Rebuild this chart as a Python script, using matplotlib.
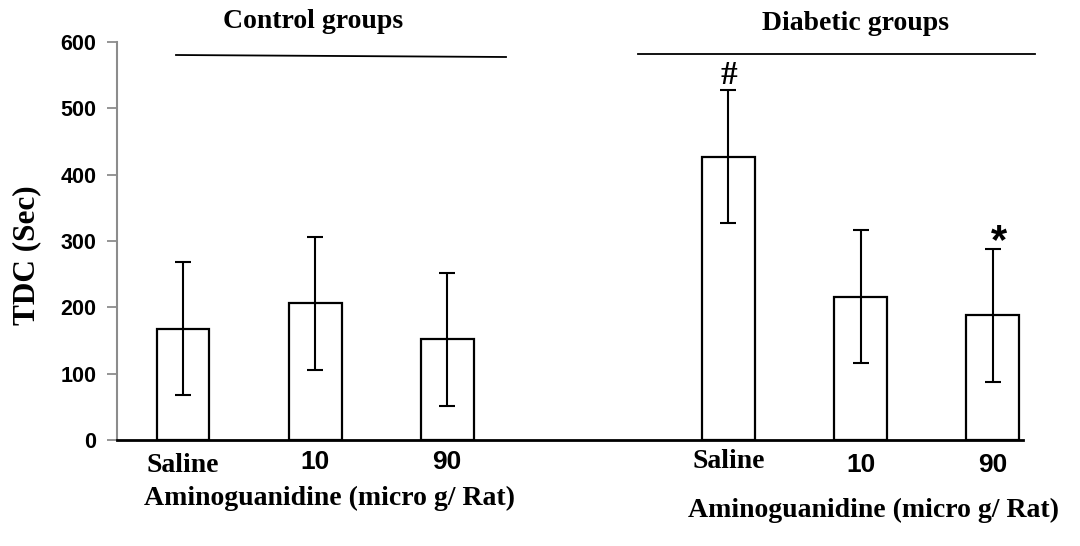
import matplotlib
matplotlib.use("Agg")
import matplotlib.pyplot as plt
from matplotlib.lines import Line2D
import matplotlib.transforms as mtransforms

# ---- data ----
categories = ["Saline", "10", "90", "Saline", "10", "90"]
groups = ["Control groups", "Diabetic groups"]
tdc_values = [168, 206, 152, 427, 216, 188]
tdc_errors = [100, 100, 100, 100, 100, 100]
markers = ["", "", "", "#", "", "*"]
y_ticks = [0, 100, 200, 300, 400, 500, 600]

# layout positions (slot units)
positions = [0, 1, 2, 4.13, 5.13, 6.13]

W, H = 1080, 546
fig = plt.figure(figsize=(W / 100, H / 100), dpi=100)
ax = fig.add_axes([117 / W, 1 - 440 / H, (1023 - 117) / W, (440 - 42) / H])

serif = "Liberation Serif"
sans = "Liberation Sans"

ax.bar(positions, tdc_values, width=0.4, color="white", edgecolor="black",
       linewidth=1.6, zorder=2)
ax.errorbar(positions, tdc_values, yerr=tdc_errors, fmt="none", ecolor="black",
            elinewidth=1.5, capsize=5.5, capthick=1.5, zorder=3)

ax.set_xlim(-0.5, 6.36)
ax.set_ylim(0, 600)
ax.set_yticks(y_ticks)
ax.set_yticklabels([str(v) for v in y_ticks], fontfamily=sans,
                   fontweight="bold", fontsize=15.5)
ax.tick_params(axis="y", direction="out", length=7, width=1.3, color="#8c8c8c", pad=8)
ax.set_xticks([])

for s in ["top", "right"]:
    ax.spines[s].set_visible(False)
ax.spines["left"].set_color("#8c8c8c")
ax.spines["left"].set_linewidth(1.5)
ax.spines["bottom"].set_color("black")
ax.spines["bottom"].set_linewidth(2.0)

# category labels
trans = mtransforms.blended_transform_factory(ax.transData, fig.transFigure)
label_y = [465, 462, 462, 462, 465, 465]
for p, c, ly in zip(positions, categories, label_y):
    if c == "Saline":
        ax.text(p, 1 - ly / H, c, transform=trans, ha="center", va="center",
                fontfamily=serif, fontweight="bold", fontsize=20)
    else:
        ax.text(p, 1 - ly / H, c, transform=trans, ha="center", va="center",
                fontfamily=sans, fontweight="bold", fontsize=19)

# significance markers
for p, v, e, m in zip(positions, tdc_values, tdc_errors, markers):
    if m == "#":
        ax.annotate(m, (p, v + e), xytext=(0, 11), textcoords="offset points",
                    ha="center", va="center", fontfamily=serif,
                    fontweight="bold", fontsize=24)
    elif m == "*":
        ax.annotate(m, (p, v + e), xytext=(4.5, 5), textcoords="offset points",
                    ha="center", va="center", fontfamily=sans,
                    fontweight="bold", fontsize=30)

# group titles and lines
fig.text(313 / W, 1 - 22 / H, groups[0], ha="center", va="center",
         fontfamily=serif, fontweight="bold", fontsize=20)
fig.text(855 / W, 1 - 24 / H, groups[1], ha="center", va="center",
         fontfamily=serif, fontweight="bold", fontsize=20)
fig.add_artist(Line2D([176 / W, 506 / W], [1 - 55 / H, 1 - 57 / H],
                      color="black", linewidth=1.3))
fig.add_artist(Line2D([638 / W, 1035 / W], [1 - 54 / H, 1 - 54 / H],
                      color="black", linewidth=1.3))

# axis titles
fig.text(27 / W, 1 - 255 / H, "TDC (Sec)", rotation=90, ha="center",
         va="center", fontfamily=serif, fontweight="bold", fontsize=22.5)
fig.text(330 / W, 1 - 498 / H, "Aminoguanidine (micro g/ Rat)", ha="center",
         va="center", fontfamily=serif, fontweight="bold", fontsize=20)
fig.text(873 / W, 1 - 510 / H, "Aminoguanidine (micro g/ Rat)", ha="center",
         va="center", fontfamily=serif, fontweight="bold", fontsize=20)

fig.savefig("out.png", dpi=100)
